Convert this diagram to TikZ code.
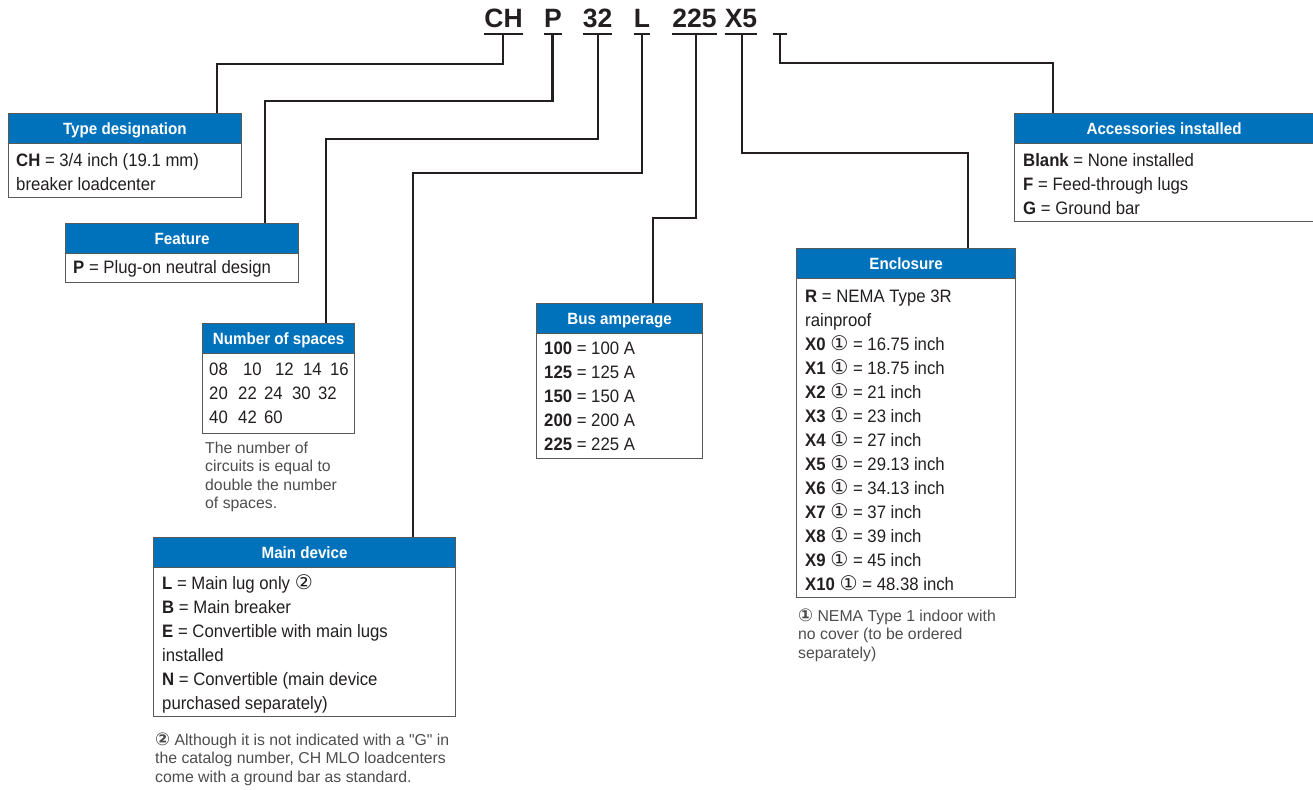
\documentclass[tikz,border=0pt]{standalone}
\usepackage{fontspec}
\setmainfont{Liberation Sans}
\newfontfamily\condf[FakeStretch=0.93]{Liberation Sans}
\newfontfamily\circf[Scale=1.12]{DejaVu Sans}
\newfontfamily\qf[Ligatures=TeXOff]{Liberation Sans}
\definecolor{ink}{HTML}{231F20}
\definecolor{hdrblue}{RGB}{0,114,188}
\definecolor{boxgray}{HTML}{58595B}
\definecolor{notegray}{HTML}{4D4D4F}
\newcommand\lns[1]{\begin{tabular}[t]{@{}l@{}}#1\end{tabular}}
\newcommand\cn[1]{{\circf #1}}
\newcommand\cnb[1]{{\circf\bfseries #1}}
\newcommand\sq{{\qf\char34}}
\begin{document}
\begin{tikzpicture}[x=1pt,y=-1pt,
 code/.style={anchor=base, inner sep=0pt, text=ink, font=\fontsize{26.5}{30}\selectfont\bfseries},
 ul/.style={draw=ink, line width=2.4pt},
 conn/.style={draw=ink, line width=2.4pt, line join=miter},
 hdr/.style={anchor=north west, draw=boxgray, line width=1.2pt, fill=hdrblue, text=white, inner sep=0pt, minimum height=30pt, text height=11.6pt, text depth=0pt, font=\condf\fontsize{16.3}{18}\selectfont\bfseries},
 bodybox/.style={anchor=north west, draw=boxgray, line width=1.2pt, fill=white, inner sep=0pt},
 bodytext/.style={anchor=base west, inner sep=0pt, text=ink, font=\condf\fontsize{18}{24}\selectfont},
 note/.style={anchor=base west, inner sep=0pt, text=notegray, font=\fontsize{15.8}{18.6}\selectfont},
]
\useasboundingbox (0,0) rectangle (1313,789);
\coordinate (ulY) at (0,34);

% catalog code
\node[code] (cCH) at (503.5,28) {CH};
\node[code] (cP)  at (553,28) {P};
\node[code] (c32) at (597.5,28) {32};
\node[code] (cL)  at (642,28) {L};
\node[code] (c225) at (694.5,28) {225};
\node[code] (cX5) at (741,28) {X5};
\coordinate (cBlW) at (773,34);
\coordinate (cBlE) at (787,34);

\foreach \n in {cCH,cP,c32,cL,c225,cX5}{
  \draw[ul] (\n.west |- ulY) -- (\n.east |- ulY);
}
\draw[ul] (cBlW) -- (cBlE);

% junction points on the underlines
\coordinate (jCH) at (503,34);
\coordinate (jP) at (552.5,34);
\coordinate (j32) at (598,34);
\coordinate (jL) at (642,34);
\coordinate (j225) at (696,34);
\coordinate (jX5) at (742,34);
\coordinate (jBl) at (780,34);
% bend points
\coordinate (kCH) at (217,64);
\coordinate (kP) at (265,101);
\coordinate (k32) at (326,139);
\coordinate (kL) at (413,173);
\coordinate (k225) at (653,218);
\coordinate (kX5) at (968,153);
\coordinate (kBl) at (1053,63);

% boxes
\node[bodybox, minimum width=233.5pt, minimum height=84pt] (td) at (7.5,113) {};
\node[hdr, minimum width=233.5pt] (tdh) at (7.5,113) {Type designation};
\node[bodytext] (tdt) at (16,166) {\lns{\textbf{CH} = 3/4 inch (19.1 mm)\\breaker loadcenter}};

\node[bodybox, minimum width=233pt, minimum height=59pt] (fe) at (65,223) {};
\node[hdr, minimum width=233pt] (feh) at (65,223) {Feature};
\node[bodytext] (fet) at (73,273) {\textbf{P} = Plug-on neutral design};

\node[bodybox, minimum width=152pt, minimum height=110pt] (ns) at (202,323) {};
\node[hdr, minimum width=152pt] (nsh) at (202,323) {Number of spaces};
\node[bodytext] (nst) at (209,375) {\lns{\makebox[34pt][l]{08}\makebox[32pt][l]{10}\makebox[28pt][l]{12}\makebox[27pt][l]{14}16\\
\makebox[29pt][l]{20}\makebox[26pt][l]{22}\makebox[28pt][l]{24}\makebox[26pt][l]{30}32\\
\makebox[29pt][l]{40}\makebox[26pt][l]{42}60}};
\node[note] (nsn) at (205,453) {\lns{The number of\\circuits is equal to\\double the number\\of spaces.}};

\node[bodybox, minimum width=302pt, minimum height=179pt] (md) at (153,537) {};
\node[hdr, minimum width=302pt] (mdh) at (153,537) {Main device};
\node[bodytext] (mdt) at (162,589) {\lns{\textbf{L} = Main lug only \cn{②}\\\textbf{B} = Main breaker\\\textbf{E} = Convertible with main lugs\\installed\\\textbf{N} = Convertible (main device\\purchased separately)}};
\node[note] (mdn) at (155,745) {\lns{\cnb{②} Although it is not indicated with a \sq G\sq{} in\\the catalog number, CH MLO loadcenters\\come with a ground bar as standard.}};

\node[bodybox, minimum width=166pt, minimum height=155pt] (ba) at (536,303) {};
\node[hdr, minimum width=166pt] (bah) at (536,303) {Bus amperage};
\node[bodytext] (bat) at (544,354) {\lns{\textbf{100} = 100 A\\\textbf{125} = 125 A\\\textbf{150} = 150 A\\\textbf{200} = 200 A\\\textbf{225} = 225 A}};

\node[bodybox, minimum width=219pt, minimum height=349pt] (en) at (796,248) {};
\node[hdr, minimum width=219pt] (enh) at (796,248) {Enclosure};
\node[bodytext] (ent) at (805,302) {\lns{\textbf{R} = NEMA Type 3R\\rainproof\\
\textbf{X0} \cn{①} = 16.75 inch\\
\textbf{X1} \cn{①} = 18.75 inch\\
\textbf{X2} \cn{①} = 21 inch\\
\textbf{X3} \cn{①} = 23 inch\\
\textbf{X4} \cn{①} = 27 inch\\
\textbf{X5} \cn{①} = 29.13 inch\\
\textbf{X6} \cn{①} = 34.13 inch\\
\textbf{X7} \cn{①} = 37 inch\\
\textbf{X8} \cn{①} = 39 inch\\
\textbf{X9} \cn{①} = 45 inch\\
\textbf{X10} \cn{①} = 48.38 inch}};
\node[note] (enn) at (798,621) {\lns{\cnb{①} NEMA Type 1 indoor with\\no cover (to be ordered\\separately)}};

\node[bodybox, minimum width=299pt, minimum height=108pt] (ac) at (1014,113) {};
\node[hdr, minimum width=299pt] (ach) at (1014,113) {Accessories installed};
\node[bodytext] (act) at (1023,166) {\lns{\textbf{Blank} = None installed\\\textbf{F} = Feed-through lugs\\\textbf{G} = Ground bar}};

% connectors
\draw[conn] (jCH) |- (kCH) -- (kCH |- tdh.north);
\draw[conn] (jP) |- (kP) -- (kP |- feh.north);
\draw[conn] (j32) |- (k32) -- (k32 |- nsh.north);
\draw[conn] (jL) |- (kL) -- (kL |- mdh.north);
\draw[conn] (j225) |- (k225) -- (k225 |- bah.north);
\draw[conn] (jX5) |- (kX5) -- (kX5 |- enh.north);
\draw[conn] (jBl) |- (kBl) -- (kBl |- ach.north);
\end{tikzpicture}
\end{document}
